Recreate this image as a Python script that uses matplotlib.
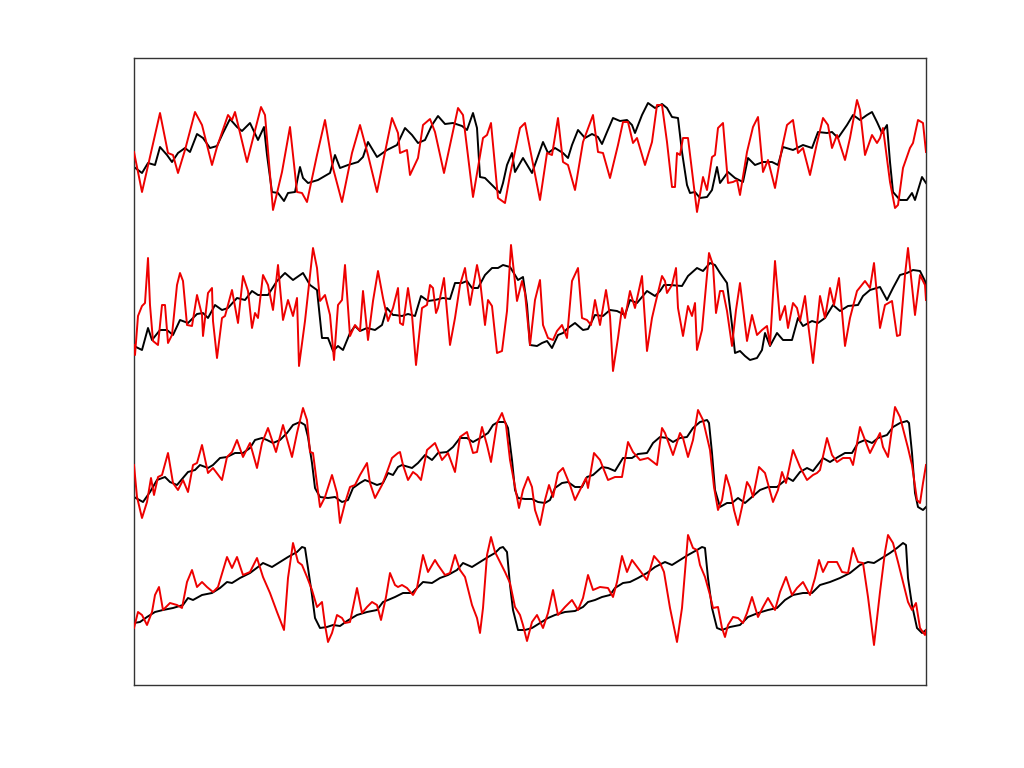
import matplotlib
matplotlib.use("Agg")
import matplotlib.pyplot as plt

# Each series: list of (time, level) samples
row1_black = [(0,518),(8,512),(14,522),(21,520),(26,538),(33,530),(38,523),(44,532),(51,537),(56,533),(63,551),(69,547),(76,537),(83,539),(89,552),(96,566),(103,558),(108,554),(116,562),(124,545),(130,558),(133,530),(138,493),(144,492),(150,484),(154,492),(161,493),(166,518),(169,507),(174,502),(184,505),(196,512),(201,530),(206,517),(214,520),(224,523),(229,528),(234,543),(243,528),(253,535),(263,540),(271,557),(278,550),(284,542),(291,545),(298,560),(304,569),(311,561),(319,562),(328,559),(333,555),(339,572),(343,557),(346,508),(351,507),(358,500),(366,492),(369,502),(373,520),(378,532),(381,513),(389,527),(398,512),(409,543),(414,532),(421,537),(429,532),(434,527),(438,540),(444,555),(451,547),(458,551),(464,548),(468,541),(473,553),(479,567),(486,564),(493,565),(498,560),(501,552),(508,570),(514,582),(521,577),(528,581),(533,577),(538,568),(544,567),(548,533),(553,500),(556,492),(561,493),(566,487),(573,488),(578,495),(583,518),(586,502),(594,513),(601,507),(609,503),(614,527),(621,520),(629,523),(638,523),(644,520),(649,538),(659,535),(669,540),(678,537),(684,553),(693,552),(698,553),(704,547),(713,560),(719,570),(726,565),(733,570),(738,573),(743,563),(748,552),(753,560),(756,523),(759,493),(766,485),(773,485),(778,492),(781,485),(788,508),(792,502)]

row1_red = [(0,533),(8,493),(18,537),(26,572),(34,532),(39,530),(44,512),(51,535),(61,573),(68,560),(78,520),(83,538),(94,570),(98,565),(101,573),(113,523),(127,578),(131,570),(139,475),(148,513),(156,558),(163,493),(168,492),(173,483),(183,530),(191,565),(199,517),(208,483),(218,532),(226,560),(234,530),(243,493),(249,523),(258,567),(264,552),(266,532),(273,535),(276,510),(284,527),(289,560),(296,566),(301,553),(310,512),(316,540),(324,577),(329,570),(339,488),(349,547),(353,550),(357,562),(364,487),(371,482),(376,510),(386,557),(391,562),(406,485),(413,532),(418,530),(424,567),(429,523),(434,520),(441,495),(449,543),(459,570),(464,533),(469,532),(476,507),(484,540),(489,563),(494,563),(499,542),(503,547),(511,520),(518,543),(523,580),(528,580),(533,543),(538,498),(541,498),(543,532),(546,530),(549,547),(554,547),(563,473),(569,508),(573,495),(578,528),(581,530),(584,557),(589,562),(594,502),(599,503),(603,505),(606,490),(613,533),(619,558),(624,568),(629,513),(634,525),(641,497),(648,537),(653,560),(659,565),(664,532),(669,537),(676,510),(683,542),(689,567),(694,560),(698,537),(703,550),(711,525),(716,547),(723,585),(726,575),(731,530),(738,550),(743,542),(746,547),(749,557),(756,503),(761,477),(764,480),(769,517),(776,537),(779,542),(784,565),(789,562),(792,533)]

row2_black = [(0,339),(8,335),(14,357),(18,345),(26,355),(33,355),(39,350),(46,365),(54,362),(63,371),(69,372),(74,367),(81,380),(88,375),(94,377),(103,387),(111,385),(118,394),(124,390),(134,390),(143,404),(151,412),(159,405),(169,412),(176,400),(183,395),(188,347),(194,347),(199,334),(204,339),(209,335),(216,352),(221,359),(226,354),(233,357),(241,355),(248,360),(253,377),(259,370),(261,370),(268,369),(274,371),(281,369),(287,389),(294,384),(301,385),(309,387),(316,386),(321,402),(328,402),(333,404),(338,397),(344,397),(351,410),(358,417),(364,417),(369,420),(376,418),(381,410),(384,405),(389,408),(393,380),(396,340),(403,339),(408,342),(413,344),(418,337),(424,350),(429,352),(434,357),(441,362),(449,355),(454,356),(461,370),(469,369),(476,375),(483,374),(491,370),(496,385),(503,382),(513,394),(521,389),(526,394),(530,400),(536,400),(548,399),(554,409),(563,417),(569,414),(576,422),(581,420),(586,412),(593,402),(598,360),(601,332),(606,334),(611,329),(616,325),(623,327),(628,335),(631,352),(636,339),(643,352),(649,345),(658,345),(664,367),(669,359),(678,364),(684,362),(691,367),(699,380),(706,374),(714,379),(724,380),(729,389),(736,395),(746,398),(753,385),(759,397),(766,410),(773,412),(779,415),(786,414),(791,404),(792,399)]

row2_red = [(0,340),(1,330),(4,369),(8,379),(11,382),(14,427),(16,380),(19,344),(24,340),(28,380),(31,380),(34,342),(38,350),(43,400),(46,412),(49,404),(53,360),(58,359),(63,390),(68,370),(69,349),(74,392),(78,397),(79,364),(83,327),(88,367),(91,369),(98,395),(104,362),(109,409),(114,394),(118,357),(121,372),(124,367),(129,410),(134,400),(139,375),(144,420),(149,365),(154,385),(159,369),(163,387),(165,319),(171,364),(179,437),(183,417),(186,384),(191,390),(196,370),(200,325),(204,380),(208,385),(211,420),(216,349),(221,360),(226,354),(229,394),(234,345),(239,384),(244,414),(249,387),(254,364),(259,377),(264,397),(266,362),(269,360),(274,397),(278,370),(282,320),(288,377),(293,380),(296,400),(299,397),(302,372),(304,377),(310,407),(316,340),(321,367),(326,400),(331,417),(336,380),(343,420),(346,405),(351,360),(354,385),(358,379),(363,332),(368,334),(373,374),(377,440),(383,384),(388,404),(391,392),(396,340),(401,385),(406,405),(409,360),(414,347),(419,345),(423,354),(428,360),(433,347),(438,404),(444,417),(448,367),(453,365),(457,360),(461,385),(466,360),(472,395),(476,369),(479,314),(484,347),(488,377),(491,367),(496,394),(501,377),(508,409),(513,334),(518,367),(521,380),(528,409),(531,404),(533,392),(538,400),(542,417),(544,377),(549,349),(554,379),(558,369),(561,382),(563,335),(568,355),(575,432),(579,420),(582,372),(586,394),(589,394),(593,374),(598,339),(602,375),(606,402),(613,344),(618,370),(623,350),(628,355),(633,359),(636,340),(641,424),(646,365),(651,379),(654,357),(659,382),(663,377),(666,364),(671,389),(674,362),(679,322),(683,360),(686,389),(691,367),(696,397),(700,380),(705,407),(711,339),(716,367),(723,394),(731,404),(736,397),(740,422),(746,357),(751,380),(758,384),(763,349),(766,350),(771,410),(774,437),(781,370),(786,410),(791,400),(792,385)]

row3_black = [(0,188),(9,183),(16,193),(23,205),(31,208),(36,203),(43,200),(49,207),(54,213),(61,215),(66,220),(74,217),(79,220),(86,227),(93,228),(101,232),(109,232),(116,237),(121,245),(128,247),(133,245),(139,242),(146,245),(153,252),(159,260),(166,263),(171,260),(174,248),(178,222),(181,197),(186,188),(194,187),(201,188),(208,183),(214,185),(219,197),(226,202),(231,205),(236,203),(243,200),(249,202),(254,212),(259,210),(264,218),(268,220),(278,217),(284,222),(291,230),(298,225),(304,232),(313,233),(319,238),(326,247),(333,247),(339,243),(348,248),(354,252),(359,260),(364,263),(371,263),(374,257),(378,225),(381,195),(384,187),(391,186),(398,186),(404,183),(411,182),(416,185),(421,197),(428,202),(434,203),(441,198),(448,198),(453,208),(459,210),(468,218),(474,217),(481,214),(489,227),(498,227),(504,231),(513,232),(519,242),(526,248),(533,247),(539,243),(546,247),(553,248),(559,257),(566,263),(573,265),(575,262),(578,232),(581,195),(586,178),(593,182),(598,182),(604,187),(611,182),(618,188),(626,195),(634,198),(643,198),(649,203),(654,207),(659,204),(666,213),(673,217),(679,214),(689,227),(696,223),(704,228),(711,232),(718,232),(724,242),(731,245),(738,242),(744,247),(753,250),(759,258),(766,262),(773,264),(775,262),(778,232),(781,192),(784,178),(789,175),(792,178)]

row3_red = [(0,220),(3,188),(8,167),(13,183),(17,207),(20,190),(24,208),(28,210),(34,232),(39,202),(44,195),(49,205),(54,193),(59,220),(63,222),(68,240),(74,212),(79,217),(88,205),(93,228),(98,233),(103,245),(109,228),(116,242),(123,217),(128,242),(134,257),(142,233),(149,260),(158,228),(163,252),(169,277),(173,265),(176,233),(179,232),(186,178),(191,188),(198,210),(203,192),(206,162),(211,182),(216,198),(221,200),(226,210),(233,222),(236,202),(241,187),(248,200),(253,213),(258,227),(264,232),(266,233),(269,220),(274,205),(279,213),(283,210),(287,205),(293,235),(301,242),(308,225),(314,232),(321,213),(326,248),(333,253),(339,232),(343,233),(348,258),(353,240),(357,223),(363,262),(368,272),(372,260),(376,225),(381,198),(385,177),(389,195),(394,208),(398,198),(401,175),(406,160),(411,185),(415,200),(419,188),(424,212),(429,217),(436,200),(441,185),(446,195),(452,207),(454,197),(460,232),(466,225),(474,205),(481,208),(488,208),(494,243),(499,233),(506,225),(514,227),(523,220),(528,257),(531,252),(539,230),(546,252),(549,247),(554,228),(559,245),(564,275),(569,265),(576,235),(580,198),(584,175),(588,185),(592,210),(596,197),(600,175),(604,160),(608,178),(613,203),(616,198),(619,188),(625,218),(631,212),(639,183),(644,195),(648,213),(652,202),(659,235),(666,218),(673,205),(679,210),(683,212),(686,215),(693,247),(698,230),(703,223),(709,227),(716,227),(719,220),(726,258),(731,245),(736,232),(741,242),(746,252),(749,238),(754,228),(761,278),(766,268),(774,237),(778,220),(783,185),(786,182),(789,202),(792,220)]

row4_black = [(0,62),(6,63),(13,68),(21,73),(29,75),(39,77),(49,80),(54,87),(59,85),(68,90),(78,92),(86,97),(93,103),(98,102),(106,107),(116,112),(124,118),(129,122),(138,118),(146,123),(154,128),(163,133),(168,138),(171,137),(174,117),(178,90),(181,67),(186,57),(193,58),(199,60),(206,59),(213,64),(223,70),(233,73),(243,75),(249,83),(254,85),(261,88),(269,92),(278,92),(283,97),(289,103),(298,102),(306,107),(314,110),(323,115),(329,122),(338,118),(346,123),(354,128),(361,132),(366,137),(369,138),(373,133),(376,100),(379,75),(384,55),(391,55),(398,57),(406,62),(414,67),(421,70),(431,73),(441,74),(449,78),(454,83),(461,85),(468,88),(476,90),(481,97),(489,102),(496,103),(504,107),(513,112),(521,118),(531,123),(538,120),(546,125),(554,130),(563,135),(568,138),(571,137),(574,107),(578,77),(583,57),(588,55),(596,58),(606,60),(614,68),(624,72),(634,75),(643,77),(651,85),(659,90),(669,92),(678,92),(686,100),(696,103),(706,107),(716,112),(726,120),(734,123),(740,122),(748,127),(756,132),(763,137),(769,142),(772,140),(774,107),(778,80),(783,57),(788,52),(792,55)]

row4_red = [(0,57),(4,73),(8,70),(13,60),(18,73),(21,90),(25,98),(29,75),(36,82),(43,80),(48,77),(53,103),(58,115),(63,98),(68,103),(73,98),(79,93),(84,98),(93,128),(98,117),(103,128),(109,110),(116,113),(123,127),(129,108),(136,92),(143,73),(150,55),(154,107),(159,142),(164,123),(168,120),(173,108),(178,95),(183,78),(188,83),(191,60),(194,43),(198,52),(203,70),(208,67),(211,62),(216,63),(223,97),(228,72),(233,78),(238,83),(243,80),(247,65),(252,88),(256,112),(261,100),(264,98),(268,100),(273,97),(279,90),(283,97),(289,130),(294,113),(301,125),(304,120),(311,110),(316,112),(321,130),(326,115),(331,108),(338,80),(343,67),(346,52),(349,77),(353,130),(357,148),(361,133),(366,123),(371,113),(376,102),(381,78),(386,70),(389,60),(393,44),(398,63),(403,70),(409,57),(414,72),(419,95),(424,70),(431,78),(438,85),(444,75),(449,87),(454,110),(459,95),(466,98),(474,97),(479,88),(483,103),(488,129),(493,113),(498,125),(504,117),(513,105),(520,129),(526,122),(530,113),(536,77),(543,43),(548,77),(551,113),(554,150),(559,137),(563,135),(566,120),(571,108),(576,90),(579,77),(584,78),(588,57),(591,48),(594,60),(599,68),(604,67),(609,62),(613,72),(618,88),(624,68),(629,78),(634,87),(641,75),(646,93),(652,108),(658,90),(663,97),(669,103),(676,90),(681,107),(685,125),(689,113),(694,123),(703,123),(708,113),(714,112),(719,137),(724,123),(729,122),(734,88),(740,40),(746,93),(751,133),(754,150),(759,142),(764,123),(769,103),(774,83),(778,75),(782,82),(786,57),(791,50),(792,55)]

rows = [(row1_black, row1_red), (row2_black, row2_red),
        (row3_black, row3_red), (row4_black, row4_red)]

fig = plt.figure(figsize=(10.24, 7.68), dpi=100)
ax = fig.add_axes([134/1024, 83/768, 792/1024, 627/768])

for black, red in rows:
    tb, vb = zip(*black)
    tr, vr = zip(*red)
    ax.plot(tb, vb, color="black", lw=1.4, zorder=2)
    ax.plot(tr, vr, color="#ee0000", lw=1.4, zorder=3)

ax.set_xlim(0, 792)
ax.set_ylim(0, 627)
ax.set_xticks([])
ax.set_yticks([])
for s in ax.spines.values():
    s.set_color("#333333")
    s.set_linewidth(1.0)

fig.savefig("out.png", dpi=100)
